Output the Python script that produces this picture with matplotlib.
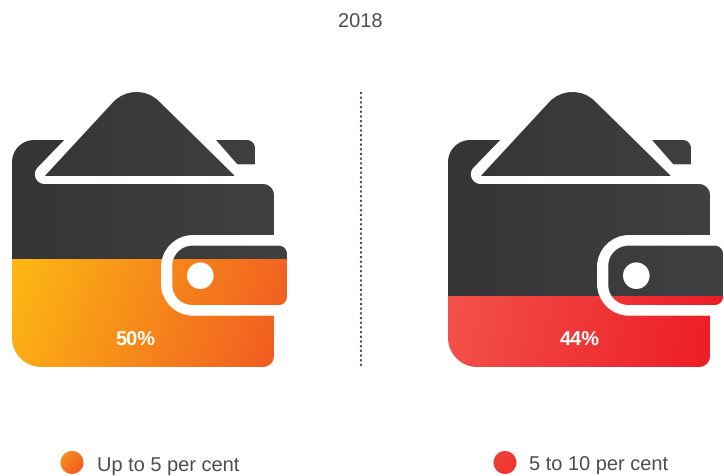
import numpy as np
import matplotlib
matplotlib.use("Agg")
import matplotlib.pyplot as plt
from matplotlib.path import Path
from matplotlib.patches import PathPatch, Circle
from matplotlib.colors import to_rgb

title = "2018"
categories = ["Up to 5 per cent", "5 to 10 per cent"]
values = [50, 44]

W, H = 724, 477
plt.rcParams["font.family"] = ["Liberation Sans", "DejaVu Sans"]
plt.rcParams["text.hinting"] = "no_hinting"
plt.rcParams["text.hinting_factor"] = 1
fig = plt.figure(figsize=(W / 100, H / 100), dpi=100)
ax = fig.add_axes([0, 0, 1, 1])
ax.axis("off")


def round_poly(pts, dx=0.0):
    """Closed path through (x, y, cut) corners, rounded by a tangent arc."""
    n = len(pts)
    verts, codes = [], []
    for i in range(n):
        v = np.array(pts[i][:2], float)
        p = np.array(pts[i - 1][:2], float)
        q = np.array(pts[(i + 1) % n][:2], float)
        c = pts[i][2]
        u1 = (v - p) / np.linalg.norm(v - p)
        u2 = (q - v) / np.linalg.norm(q - v)
        a, b = v - c * u1, v + c * u2
        verts.append(a)
        codes.append(Path.MOVETO if i == 0 else Path.LINETO)
        if c > 0:
            th = np.arccos(np.clip(u1 @ u2, -1, 1))
            f = 4 / 3 * np.tan(th / 4) / np.tan(th / 2)
            verts += [a + f * c * u1, b - f * c * u2, b]
            codes += [Path.CURVE4] * 3
    verts.append(verts[0])
    codes.append(Path.CLOSEPOLY)
    verts = np.array(verts) + [dx, 0]
    return Path(verts, codes)


def wallet_path(dx):
    body = [(64.3, 140, 0), (12, 140, 22), (12, 367, 29), (274, 367, 11), (274, 315.7, 0),
            (161, 315.7, 32), (161, 235, 32), (274, 235, 0), (274, 184, 11),
            (21.6, 184, 23)]
    flap = [(135.4, 78, 33), (44.7, 176, 1), (235, 176, 1)]
    back = [(216, 140, 0), (237.3, 164.3, 1), (255, 164.3, 0), (255, 140, 8)]
    clasp = [(287, 245.7, 8), (172.3, 245.7, 20), (172.3, 305, 20), (287, 305, 8)]
    return [round_poly(s, dx) for s in (body, flap, back, clasp)]


def gradient(x0, x1, y0, y1, c0, c1, angle, gx0=None, gx1=None, gy0=None, gy1=None):
    gx0 = x0 if gx0 is None else gx0
    gx1 = x1 if gx1 is None else gx1
    gy0 = y0 if gy0 is None else gy0
    gy1 = y1 if gy1 is None else gy1
    xs = np.linspace(x0, x1, max(int(x1 - x0), 2))
    ys = np.linspace(y0, y1, max(int(y1 - y0), 2))
    X, Y = np.meshgrid(xs, ys)
    a = np.radians(angle)
    d = (X - gx0) * np.cos(a) + (Y - gy0) * np.sin(a)
    m = (gx1 - gx0) * np.cos(a) + (gy1 - gy0) * np.sin(a)
    t = np.clip(d / m, 0, 1)[..., None]
    img = np.array(to_rgb(c0)) * (1 - t) + np.array(to_rgb(c1)) * t
    ax.imshow(img, extent=(x0, x1, y1, y0), origin="upper", aspect="auto",
              interpolation="bilinear", zorder=1)


def mask(x0, x1, y0, y1, holes):
    rect = Path([(x0, y0), (x1, y0), (x1, y1), (x0, y1), (x0, y0)],
                [Path.MOVETO, Path.LINETO, Path.LINETO, Path.LINETO, Path.CLOSEPOLY])
    ax.add_patch(PathPatch(Path.make_compound_path(rect, *holes), fc="white", ec="none", zorder=2))


def circle_path(cx, cy, r):
    return round_poly([(cx + r, cy - r, r), (cx - r, cy - r, r), (cx - r, cy + r, r), (cx + r, cy + r, r)])


offsets = [0, 436]
fill_tops = [259, 296]
fill_cols = [("#FDB913", "#F15A22", 20), ("#F2524A", "#ED1C24", 12)]
label_x = [135.5, 580]

for dx, top, (c0, c1, ang), val, lx in zip(offsets, fill_tops, fill_cols, values, label_x):
    gradient(8 + dx, min(291 + dx, W), 88, top, "#363435", "#414042", 0)
    gradient(8 + dx, min(291 + dx, W), top, 371, c0, c1, ang,
             gx0=12 + dx, gx1=280 + dx, gy0=top, gy1=367)
    mask(6 + dx, min(293 + dx, W), 86, 373, wallet_path(dx))
    ax.add_patch(Circle((200.3 + dx, 275.7), 13.3, fc="white", ec="none", zorder=3))
    ax.text(lx, 339.5, f"{val}%", color="white", fontsize=14.4, fontweight="bold",
            ha="center", va="center", zorder=4)

# divider
ax.plot([361, 361], [92, 367], color="#4d4d4d", lw=1.5, ls=(0, (1, 1.25)), zorder=1)

# title
ax.text(360, 21.5, title, color="#4d4d4d", fontsize=14.4, ha="center", va="center")

# legend
legend_cx = [72, 505]
legend_tx = [97, 529]
legend_cols = [("#F9901E", "#F15A22"), ("#F0403A", "#EE3430")]
for cx, tx, (c0, c1), name in zip(legend_cx, legend_tx, legend_cols, categories):
    gradient(cx - 13, cx + 13, 449, 475, c0, c1, 45, gx0=cx - 9, gx1=cx + 9, gy0=453, gy1=471)
    mask(cx - 15, cx + 15, 447, 477, [circle_path(cx, 462.5, 11.5)])
    ax.text(tx, 464.7, name, color="#4d4d4d", fontsize=14.4, ha="left", va="center")

ax.set_xlim(0, W)
ax.set_ylim(H - 1, -1)
fig.savefig("out.png", dpi=100, facecolor="white")
